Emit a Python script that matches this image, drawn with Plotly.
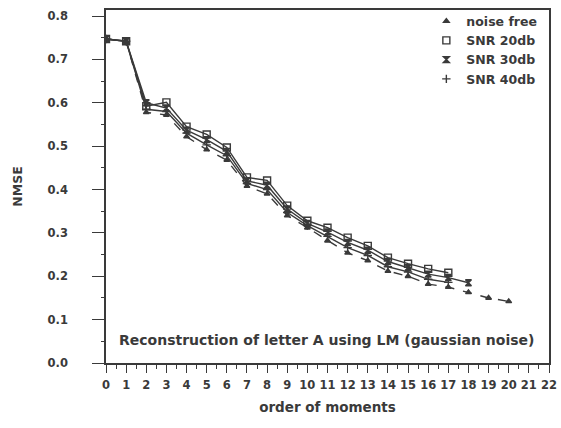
import plotly.graph_objects as go

orders = list(range(0, 21))
noise_free = [0.747, 0.742, 0.578, 0.572, 0.522, 0.492, 0.468, 0.408, 0.390, 0.340,
              0.312, 0.282, 0.254, 0.236, 0.212, 0.200, 0.182, 0.175, 0.163, 0.150, 0.142]
snr20 = [0.747, 0.742, 0.592, 0.601, 0.545, 0.527, 0.497, 0.428, 0.421, 0.363,
         0.328, 0.312, 0.289, 0.270, 0.243, 0.229, 0.217, 0.208]
snr30 = [0.747, 0.742, 0.600, 0.588, 0.537, 0.515, 0.488, 0.420, 0.410, 0.355,
         0.322, 0.302, 0.278, 0.260, 0.234, 0.220, 0.205, 0.197, 0.185]
snr40 = [0.747, 0.742, 0.585, 0.580, 0.530, 0.503, 0.478, 0.414, 0.400, 0.347,
         0.317, 0.292, 0.266, 0.248, 0.222, 0.210, 0.193, 0.186]

series_names = ["noise free", "SNR 20db", "SNR 30db", "SNR 40db"]
x_ticks = list(range(0, 23))
y_ticks = [0.0, 0.1, 0.2, 0.3, 0.4, 0.5, 0.6, 0.7, 0.8]

INK = "#3a3a3a"
FONT = "DejaVu Sans"

fig = go.Figure()
specs = [
    (series_names[0], noise_free, "triangle-up", "dash", 5),
    (series_names[1], snr20, "square-open", "solid", 7),
    (series_names[2], snr30, "hourglass", "solid", 6),
    (series_names[3], snr40, "cross-thin-open", "solid", 6),
]
for name, vals, sym, dash, sz in specs:
    fig.add_trace(go.Scatter(
        x=orders[:len(vals)], y=vals, mode="lines+markers", name=name,
        line=dict(color=INK, width=1.4, dash=dash),
        marker=dict(symbol=sym, size=sz, color=INK, line=dict(color=INK, width=1.4)),
        showlegend=False))
    fig.add_trace(go.Scatter(
        x=[None], y=[None], mode="markers", name=f"<b>{name}</b>",
        marker=dict(symbol=sym, size=sz, color=INK, line=dict(color=INK, width=1.4)),
        showlegend=True))

fig.add_annotation(
    x=10.95, y=0.053, xref="x", yref="y",
    text="<b>Reconstruction of letter A using LM (gaussian noise)</b>",
    showarrow=False, font=dict(family=FONT, size=14, color=INK))

fig.update_layout(
    width=561, height=428,
    margin=dict(l=106, r=12, t=10, b=65, autoexpand=False),
    paper_bgcolor="white", plot_bgcolor="white",
    font=dict(family=FONT, color=INK),
    legend=dict(x=0.985, y=1.01, xanchor="right", yanchor="top",
                bgcolor="rgba(0,0,0,0)", font=dict(family=FONT, size=12.5, color=INK),
                tracegroupgap=0, itemwidth=30),
)
fig.update_xaxes(
    range=[0, 22], tickvals=x_ticks, ticktext=[f"<b>{v}</b>" for v in x_ticks],
    ticks="outside", ticklen=8, tickwidth=1.3, tickcolor=INK,
    minor=dict(dtick=0.5, tick0=0, ticks="outside", ticklen=4, tickcolor=INK, showgrid=False),
    showline=True, linecolor=INK, linewidth=1.6, mirror=True, showgrid=False, zeroline=False,
    tickfont=dict(family=FONT, size=11.5, color=INK), ticklabelstandoff=2,
    ticklabeloverflow="allow", automargin=False,
    title=dict(text="<b>order of moments</b>", font=dict(family=FONT, size=13.5, color=INK), standoff=12))
fig.update_yaxes(
    range=[0, 0.814], tickvals=y_ticks, ticktext=[f"<b>{v:.1f}</b>" for v in y_ticks],
    ticks="outside", ticklen=12, tickwidth=1.3, tickcolor=INK,
    minor=dict(dtick=0.05, tick0=0, ticks="outside", ticklen=3, tickcolor=INK, showgrid=False),
    showline=True, linecolor=INK, linewidth=1.6, mirror=True, showgrid=False, zeroline=False,
    tickfont=dict(family=FONT, size=11.5, color=INK), ticklabelstandoff=22, automargin=False,
    title=dict(text="<b>NMSE</b>", font=dict(family=FONT, size=12.5, color=INK), standoff=22))

fig.write_html("out.html", config={"displayModeBar": False},
               post_script="document.body.style.margin='0';")
